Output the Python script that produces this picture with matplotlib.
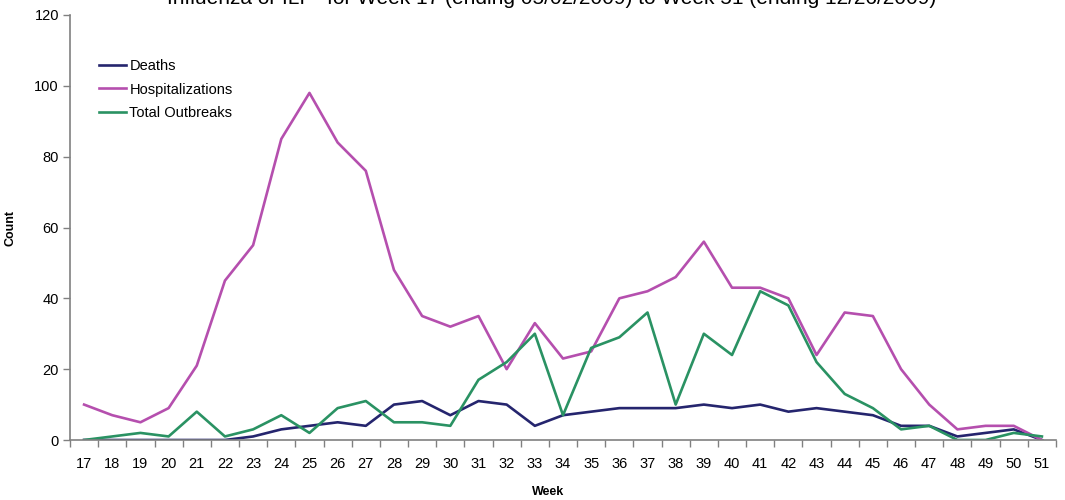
import matplotlib
matplotlib.use("Agg")
import matplotlib.pyplot as plt
import numpy as np

plt.rcParams['font.family'] = ['Liberation Sans', 'DejaVu Sans']

weeks = [str(w) for w in range(17, 52)]
deaths = [0, 0, 0, 0, 0, 0, 1, 3, 4, 5, 4, 10, 11, 7, 11, 10, 4, 7, 8, 9, 9, 9,
          10, 9, 10, 8, 9, 8, 7, 4, 4, 1, 2, 3, 0]
hospitalizations = [10, 7, 5, 9, 21, 45, 55, 85, 98, 84, 76, 48, 35, 32, 35, 20,
                    33, 23, 25, 40, 42, 46, 56, 43, 43, 40, 24, 36, 35, 20, 10, 3,
                    4, 4, 0]
outbreaks = [0, 1, 2, 1, 8, 1, 3, 7, 2, 9, 11, 5, 5, 4, 17, 22, 30, 7, 26, 29, 36,
             10, 30, 24, 42, 38, 22, 13, 9, 3, 4, 0, 0, 2, 1]

title = "Influenza or ILI** for Week 17 (ending 05/02/2009) to Week 51 (ending 12/26/2009)"

fig = plt.figure(figsize=(10.65, 5.0), dpi=100)
ax = fig.add_axes([70/1065, 1 - 440/500, (1056 - 70)/1065, 425/500])

x = np.arange(len(weeks))
ax.plot(x, deaths, color='#25256e', lw=1.9, label='Deaths')
ax.plot(x, hospitalizations, color='#b54fae', lw=1.9, label='Hospitalizations')
ax.plot(x, outbreaks, color='#2a9263', lw=1.9, label='Total Outbreaks')

ax.set_xlim(-0.5, len(weeks) - 0.5)
ax.set_ylim(0, 120)
ax.set_yticks(range(0, 121, 20))
ax.set_xticks(x)
ax.set_xticklabels(weeks, fontsize=10.5)
ax.set_xticks(np.arange(-0.5, len(weeks), 1), minor=True)
ax.tick_params(axis='x', which='major', length=0, pad=12)
ax.tick_params(axis='x', which='minor', length=5, color='#808080', width=1)
ax.tick_params(axis='y', length=5, color='#808080', width=1, labelsize=10.5, pad=3)

for s in ['top', 'right']:
    ax.spines[s].set_visible(False)
for s in ['left', 'bottom']:
    ax.spines[s].set_color('#808080')
    ax.spines[s].set_linewidth(1.2)

ax.set_xlabel('Week', fontsize=9, fontweight='bold')
ax.xaxis.set_label_coords(0.485, -46/425, transform=ax.transAxes)
ax.set_ylabel('Count', fontsize=9, fontweight='bold')
ax.yaxis.set_label_coords(-53/986, 0.5)

fig.text(552/1065, 1 + 1/500, title, ha='center', va='center', fontsize=15)

leg = ax.legend(loc='upper left', bbox_to_anchor=(0.024, 0.91), frameon=False,
                fontsize=10.5, handlelength=1.85, handletextpad=0.2, labelspacing=0.65,
                borderaxespad=0)

fig.savefig('out.png', dpi=100)
